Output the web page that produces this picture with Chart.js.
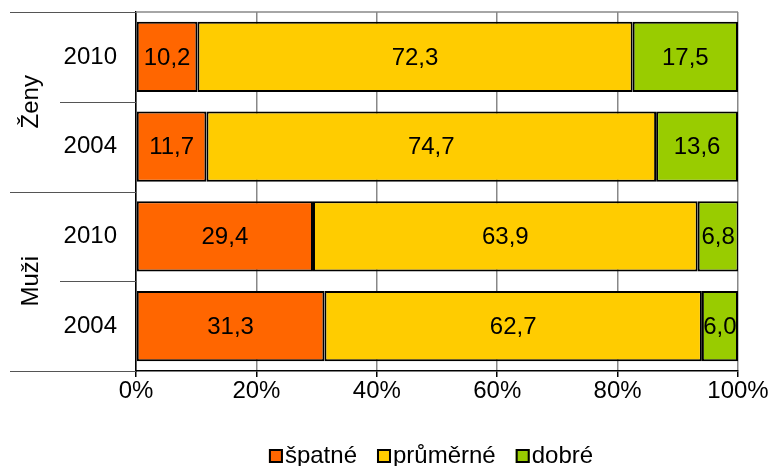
<!DOCTYPE html>
<html>
<head>
<meta charset="utf-8">
<script src="https://cdn.jsdelivr.net/npm/chart.js@4"></script>
<style>
  html, body { margin: 0; padding: 0; background: #fff; }
  #wrap { width: 770px; height: 466px; }
</style>
</head>
<body>
<div id="wrap"><canvas id="chart"></canvas></div>
<script>
const categories = ['2010', '2004', '2010', '2004'];
const groups = ['Ženy', 'Muži'];
const spatne = [10.2, 11.7, 29.4, 31.3];
const prumerne = [72.3, 74.7, 63.9, 62.7];
const dobre = [17.5, 13.6, 6.8, 6.0];
const xTicks = [0, 20, 40, 60, 80, 100];

const FONT = 'Arial, "Liberation Sans", sans-serif';

// value labels in the middle of each bar segment
const valueLabels = {
    id: 'valueLabels',
    afterDatasetsDraw(chart) {
        const ctx = chart.ctx;
        ctx.save();
        ctx.font = '24px ' + FONT;
        ctx.fillStyle = '#000';
        ctx.textAlign = 'center';
        ctx.textBaseline = 'middle';
        chart.data.datasets.forEach((ds, i) => {
            chart.getDatasetMeta(i).data.forEach((bar, j) => {
                const x = (bar.x + bar.base) / 2;
                ctx.fillText(ds.data[j].toFixed(1).replace('.', ','), x, bar.y + 1);
            });
        });
        ctx.restore();
    }
};

// group labels, separators, plot border and the legend
const groupAxis = {
    id: 'groupAxis',
    afterDraw(chart) {
        const ctx = chart.ctx;
        const area = chart.chartArea;
        const y = chart.scales.y;
        const step = y.getPixelForValue(1) - y.getPixelForValue(0);
        ctx.save();
        ctx.strokeStyle = '#888';
        ctx.lineWidth = 1.5;
        ctx.beginPath();
        ctx.moveTo(area.left, area.top);
        ctx.lineTo(area.right, area.top);
        ctx.stroke();

        ctx.strokeStyle = '#555';
        ctx.lineWidth = 1;
        for (let k = 0; k <= categories.length; k++) {
            const py = Math.round(y.getPixelForValue(k) - step / 2) + 0.5;
            const x0 = (k % 2 === 0) ? 10 : 60;
            ctx.beginPath();
            ctx.moveTo(x0, py);
            ctx.lineTo(area.left, py);
            ctx.stroke();
        }

        ctx.fillStyle = '#000';
        ctx.font = '24px ' + FONT;
        ctx.textAlign = 'center';
        ctx.textBaseline = 'middle';
        groups.forEach((g, i) => {
            const cy = (y.getPixelForValue(i * 2) + y.getPixelForValue(i * 2 + 1)) / 2;
            ctx.save();
            ctx.translate(31, cy);
            ctx.rotate(-Math.PI / 2);
            ctx.fillText(g, 0, 0);
            ctx.restore();
        });

        // legend
        const box = 14, gap = 2, itemGap = 20, ly = 456;
        const items = chart.data.datasets.map(ds => ({
            text: ds.label, color: ds.backgroundColor, w: ctx.measureText(ds.label).width
        }));
        const total = items.reduce((s, it) => s + box + gap + it.w, 0) + itemGap * (items.length - 1);
        let lx = 431 - total / 2;
        ctx.textAlign = 'left';
        items.forEach(it => {
            ctx.fillStyle = it.color;
            ctx.fillRect(lx, ly - box / 2, box, box);
            ctx.strokeStyle = '#000';
            ctx.lineWidth = 2;
            ctx.strokeRect(lx + 1, ly - box / 2 + 1, box - 2, box - 2);
            ctx.fillStyle = '#000';
            ctx.fillText(it.text, lx + box + gap, ly);
            lx += box + gap + it.w + itemGap;
        });
        ctx.restore();
    }
};

new Chart(document.getElementById('chart').getContext('2d'), {
    type: 'bar',
    data: {
        labels: categories,
        datasets: [
            {
                label: 'špatné',
                data: spatne,
                backgroundColor: '#FF6600',
                borderColor: '#000',
                borderWidth: 2,
                borderSkipped: false,
            },
            {
                label: 'průměrné',
                data: prumerne,
                backgroundColor: '#FFCC00',
                borderColor: '#000',
                borderWidth: 2,
                borderSkipped: false,
            },
            {
                label: 'dobré',
                data: dobre,
                backgroundColor: '#99CC00',
                borderColor: '#000',
                borderWidth: 2,
                borderSkipped: false,
            }
        ]
    },
    options: {
        indexAxis: 'y',
        responsive: true,
        maintainAspectRatio: false,
        animation: false,
        layout: { padding: { top: 12, right: 32, left: 0, bottom: 55 } },
        datasets: {
            bar: { categoryPercentage: 1, barPercentage: 0.78 }
        },
        plugins: {
            legend: { display: false },
            tooltip: { enabled: false },
        },
        scales: {
            x: {
                stacked: true,
                min: 0,
                max: 100,
                afterBuildTicks: function (scale) {
                    scale.ticks = xTicks.map(v => ({ value: v }));
                },
                grid: { color: '#888', lineWidth: 1.5, tickColor: '#000', tickLength: 6 },
                border: { color: '#000', width: 1.5 },
                ticks: {
                    color: '#000',
                    font: { size: 24, family: FONT },
                    padding: 0,
                    maxRotation: 0,
                    callback: function (value) { return value + '%'; }
                },
                afterFit: function (scale) { scale.height = 40; }
            },
            y: {
                stacked: true,
                grid: { display: false, drawTicks: false },
                border: { color: '#000', width: 1.5 },
                ticks: {
                    color: '#000',
                    font: { size: 24, family: FONT },
                    padding: 19,
                },
                afterFit: function (scale) {
                    scale.width = 136;
                    scale.paddingTop = 0;
                    scale.paddingBottom = 0;
                }
            }
        }
    },
    plugins: [valueLabels, groupAxis]
});
</script>
</body>
</html>
